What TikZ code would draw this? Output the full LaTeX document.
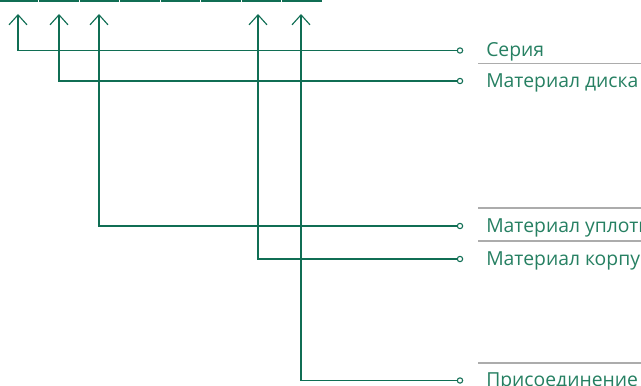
\documentclass[tikz,border=0pt]{standalone}
\usepackage{fontspec}
\setmainfont{Open Sans}
\usetikzlibrary{arrows.meta}
\definecolor{pipegreen}{RGB}{16,110,84}
\definecolor{tagtextgreen}{RGB}{38,128,98}
\definecolor{rulegray}{RGB}{172,172,172}
\tikzset{
  pipe/.style={color=pipegreen, line width=0.85pt, -{Straight Barb[length=7.5pt,width=13.5pt,line width=0.85pt]}},
  enddot/.style={circle, draw=pipegreen, fill=white, line width=0.8pt, inner sep=0pt, minimum size=4pt},
  tagtext/.style={anchor=base west, inner sep=0pt, text=tagtextgreen, font=\fontsize{14.5}{17}\selectfont},
  seprule/.style={color=rulegray, line width=0.8pt}
}
\begin{document}
\begin{tikzpicture}[x=0.75pt,y=0.75pt,yscale=-1,xscale=1]
\useasboundingbox (0,0) rectangle (641,385);
\clip (0,0) rectangle (641,385);

%Top bar: bottom edges of the code boxes
\foreach \k in {0,...,7}
  \draw [color=pipegreen, line width=1.1pt] ({-1.5+40.5*\k},0.8) -- ({-2.5+40.5*(\k+1)},0.8);

%Arrow tips under the boxes
\coordinate (tip1) at (18,14);
\coordinate (tip2) at (59,14);
\coordinate (tip3) at (99,14);
\coordinate (tip4) at (258,14);
\coordinate (tip5) at (301,14);

%End dots
\node [enddot] (dot1) at (460,50.5) {};
\node [enddot] (dot2) at (460,81) {};
\node [enddot] (dot3) at (460,226) {};
\node [enddot] (dot4) at (460,259) {};
\node [enddot] (dot5) at (460,380.5) {};

%Labels
\node [tagtext] (lbl1) at (486,56.5) {Серия};
\node [tagtext] (lbl2) at (486,87) {Материал диска};
\node [tagtext] (lbl3) at (486,232) {Материал уплотнения};
\node [tagtext] (lbl4) at (486,265) {Материал корпуса};
\node [tagtext] (lbl5) at (486,386) {Присоединение};

%Separators
\draw [seprule] (478,63.3) -- (641,63.3);
\draw [seprule] (478,208) -- (641,208);
\draw [seprule] (478,241) -- (641,241);
\draw [seprule] (478,363) -- (641,363);

%Leaders
\draw [pipe] (dot1.west) -| (tip1);
\draw [pipe] (dot2.west) -| (tip2);
\draw [pipe] (dot3.west) -| (tip3);
\draw [pipe] (dot4.west) -| (tip4);
\draw [pipe] (dot5.west) -| (tip5);

\end{tikzpicture}
\end{document}
